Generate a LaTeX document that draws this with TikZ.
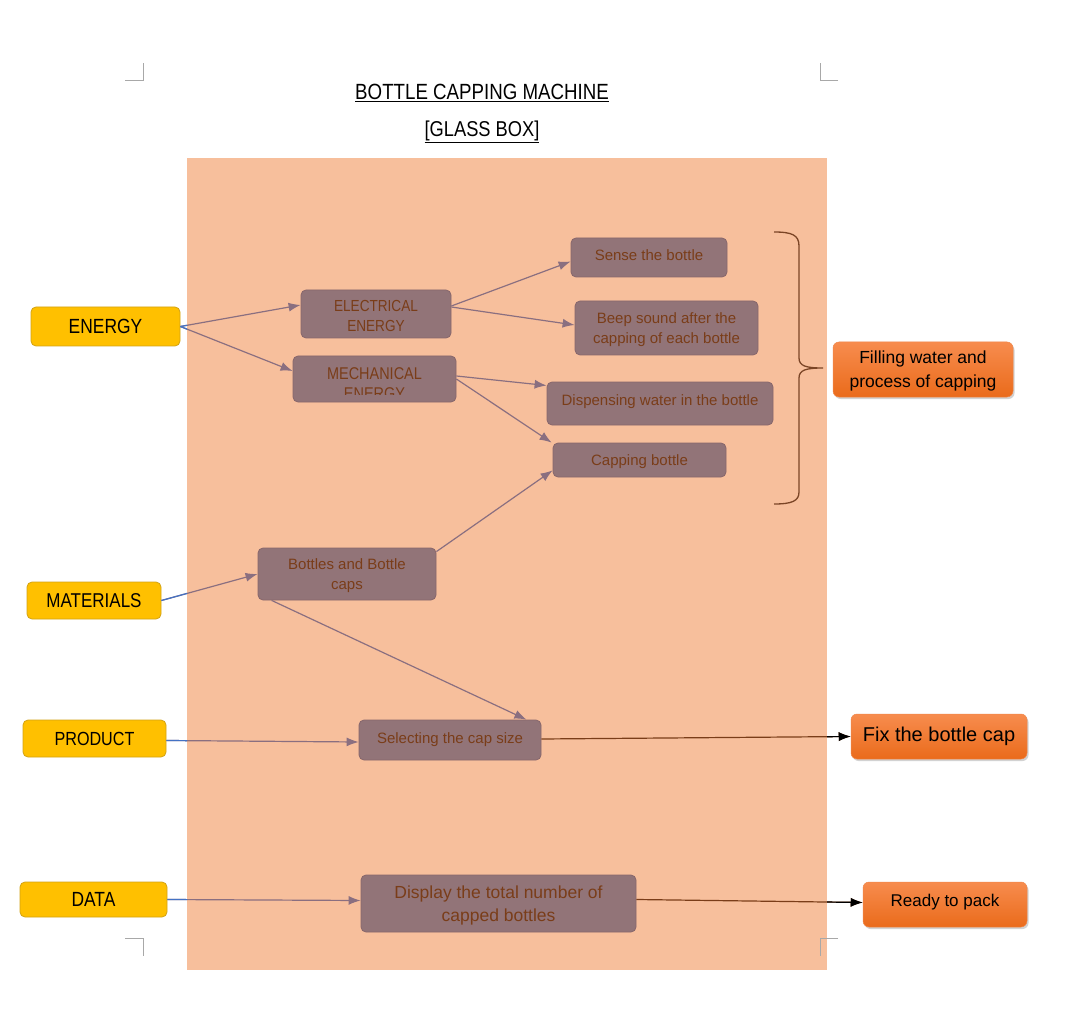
\documentclass[tikz,border=0pt]{standalone}
\usepackage{fontspec}
\setmainfont{Liberation Sans}
\newfontfamily\capsf{Liberation Sans}[FakeStretch=0.85]
\usetikzlibrary{arrows.meta,calc,shadows}
\definecolor{peach}{HTML}{F7BF9C}
\definecolor{boxfill}{HTML}{927478}
\definecolor{boxline}{HTML}{87666B}
\definecolor{boxtext}{HTML}{7A3D19}
\definecolor{conn}{HTML}{8A6F80}
\definecolor{ybox}{HTML}{FFC000}
\definecolor{yline}{HTML}{D2A214}
\definecolor{otop}{HTML}{F78C4E}
\definecolor{obot}{HTML}{EA6B1B}
\definecolor{oline}{HTML}{F0874A}
\definecolor{bluec}{HTML}{4472C4}
\definecolor{bracec}{HTML}{7B4526}
\definecolor{markc}{HTML}{A8A8A8}
\newcommand{\fsz}[1]{\fontsize{#1}{#1}\selectfont}
\tikzset{
  inbox/.style={draw=boxline, fill=boxfill, rounded corners=5pt, text=boxtext,
    align=center, inner sep=0pt, line width=0.8pt, font=\fsz{15}, text depth=0pt},
  ylbox/.style={draw=yline, fill=ybox, rounded corners=5pt, text=black,
    align=center, inner sep=0pt, line width=0.8pt},
  orbox/.style={draw=oline, top color=otop, bottom color=obot, rounded corners=6pt,
    text=black, align=center, inner sep=0pt, line width=0.5pt,
    drop shadow={shadow xshift=1.5pt, shadow yshift=-2pt, opacity=0.35}},
  link/.style={draw=conn, line width=1.2pt, -{Latex[length=12pt,width=9pt]}},
  outlink/.style={draw=boxtext, line width=1.2pt, -{Latex[length=12pt,width=9pt]}},
  cropmark/.style={draw=markc, line width=1pt},
}
\begin{document}
\begin{tikzpicture}[x=1pt,y=-1pt]
\useasboundingbox (0,0) rectangle (1080,1027);
\fill[white] (0,0) rectangle (1080,1027);

% titles
\node[font=\capsf\fsz{22}] (title) at (482,93) {\underline{BOTTLE CAPPING MACHINE}};
\node[font=\capsf\fsz{21.5}] (subtitle) at (482,132) {\underline{[GLASS BOX]}};

% glass box
\fill[peach] (187,158) rectangle (827,970);

% corner marks
\draw[cropmark] (125,81) -- (143,81) -- (143,63);
\draw[cropmark] (838,81) -- (820,81) -- (820,63);
\draw[cropmark] (125,938) -- (143,938) -- (143,956);
\draw[cropmark] (838,938) -- (820,938) -- (820,956);

% inner boxes
\node[inbox, minimum width=150pt, minimum height=48pt, font=\capsf\fsz{16}] (elec) at (376,314) {\rule{0pt}{15pt}ELECTRICAL\\[4pt]ENERGY};
\node[inbox, minimum width=163pt, minimum height=46pt] (mech) at (374.5,379) {};
\begin{scope}
  \clip (293,356) rectangle (456,394);
  \node[text=boxtext, align=center, inner sep=0pt, font=\capsf\fsz{17}] (mechtext) at (374.5,384) {MECHANICAL\\[3pt]ENERGY};
\end{scope}
\node[inbox, minimum width=156pt, minimum height=39pt] (sense) at (649,257.5) {\raisebox{4pt}{Sense the bottle}};
\node[inbox, minimum width=183pt, minimum height=54pt] (beep) at (666.5,328) {Beep sound after the\\[5pt]capping of each bottle};
\node[inbox, minimum width=226pt, minimum height=43pt] (disp) at (660,403.5) {\raisebox{7pt}{Dispensing water in the bottle}};
\node[inbox, minimum width=173pt, minimum height=34pt] (capb) at (639.5,460) {Capping bottle};
\node[inbox, minimum width=178pt, minimum height=52pt] (bott) at (347,574) {Bottles and Bottle\\[5pt]caps};
\node[inbox, minimum width=182pt, minimum height=40pt] (sel) at (450,740) {\raisebox{3pt}{Selecting the cap size}};
\node[inbox, minimum width=275pt, minimum height=57pt, font=\fsz{17.5}] (disp2) at (498.5,903.5) {Display the total number of\\[5pt]capped bottles};

% outer inputs
\node[ylbox, minimum width=149pt, minimum height=39pt, font=\capsf\fsz{20.5}] (energy) at (105.5,326.5) {ENERGY};
\node[ylbox, minimum width=134pt, minimum height=37pt, font=\capsf\fsz{20}] (mat) at (94,600.5) {MATERIALS};
\node[ylbox, minimum width=143pt, minimum height=37pt, font=\capsf\fsz{19}] (prod) at (94.5,738.5) {PRODUCT};
\node[ylbox, minimum width=147pt, minimum height=35pt, font=\capsf\fsz{20.5}] (data) at (93.5,899.5) {DATA};

% outputs
\node[orbox, minimum width=180pt, minimum height=55pt, font=\fsz{17.5}] (fill) at (923,369.5) {\rule{0pt}{16pt}Filling water and\\[6pt]process of capping};
\node[orbox, minimum width=176pt, minimum height=45pt, font=\fsz{20}] (fix) at (939,736.5) {\raisebox{5pt}{Fix the bottle cap}};
\node[orbox, minimum width=164pt, minimum height=45pt, font=\fsz{17}] (ready) at (945,904.5) {\raisebox{9pt}{Ready to pack}};

% brace
\draw[bracec, line width=1.3pt] (774,232) .. controls (792,232) and (799,235) .. (799,246)
  -- (799,358) .. controls (799,366) and (806,368) .. (823,368)
  .. controls (806,368) and (799,370) .. (799,378)
  -- (799,492) .. controls (799,501) and (792,504) .. (774,504);

% connectors
\draw[link] (energy.east) -- ([yshift=9pt]elec.west);
\draw[link] (energy.east) -- ([yshift=8pt]mech.west);
\draw[link] ([yshift=8pt]elec.east) -- ([yshift=-4pt]sense.west);
\draw[link] ([yshift=7pt]elec.east) -- ([yshift=3pt]beep.west);
\draw[link] ([yshift=3pt]mech.east) -- ([yshift=18pt]disp.west);
\draw[link] (mech.east) -- ([xshift=-1pt]capb.north west);
\draw[link] ([yshift=-4pt]bott.north east) -- ([yshift=7pt]capb.south west);
\draw[link] (mat.east) -- (bott.west);
\draw[link] ($(bott.south west)+(14,0)$) -- ($(sel.north east)+(-15,0)$);
\draw[link] ([yshift=-2pt]prod.east) -- ([yshift=-2pt]sel.west);
\draw[link] (data.east) -- ([yshift=3pt]disp2.west);
\draw[outlink] ([yshift=1pt]sel.east) -- (fix.west);
\draw[outlink] ([yshift=4pt]disp2.east) -- ([yshift=2pt]ready.west);

% blue starts outside the glass box
\begin{scope}
  \clip (0,0) rectangle (187,1027);
  \draw[bluec, line width=1.2pt] (energy.east) -- ([yshift=9pt]elec.west);
  \draw[bluec, line width=1.2pt] (energy.east) -- ([yshift=8pt]mech.west);
  \draw[bluec, line width=1.2pt] (mat.east) -- (bott.west);
  \draw[bluec, line width=1.2pt] ([yshift=-2pt]prod.east) -- ([yshift=-2pt]sel.west);
  \draw[bluec, line width=1.2pt] (data.east) -- ([yshift=3pt]disp2.west);
\end{scope}
% black ends outside the glass box
\begin{scope}
  \clip (827,0) rectangle (1080,1027);
  \draw[black, line width=1.2pt, -{Latex[length=12pt,width=9pt]}] ([yshift=1pt]sel.east) -- (fix.west);
  \draw[black, line width=1.2pt, -{Latex[length=12pt,width=9pt]}] ([yshift=4pt]disp2.east) -- ([yshift=2pt]ready.west);
\end{scope}
\end{tikzpicture}
\end{document}
